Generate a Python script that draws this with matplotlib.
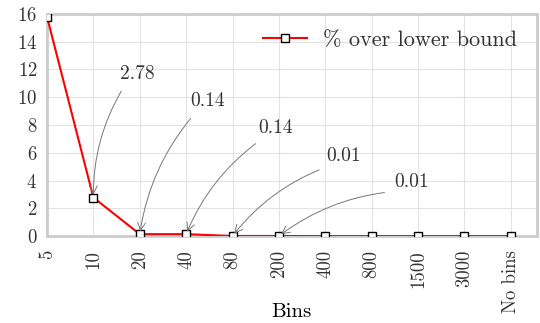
import matplotlib.pyplot as plt
import matplotlib as mpl

# data
bins = ['5', '10', '20', '40', '80', '200', '400', '800', '1500', '3000', 'No bins']
over_lb = [15.8, 2.78, 0.14, 0.14, 0.01, 0.01, 0.0, 0.0, 0.0, 0.0, 0.0]
notes = ['2.78', '0.14', '0.14', '0.01', '0.01']
note_idx = [1, 2, 3, 4, 5]
note_xy = [(1.94, 11.7), (3.47, 9.7), (4.93, 7.8), (6.4, 5.8), (7.86, 3.9)]

mpl.rcParams['font.family'] = 'serif'
mpl.rcParams['font.serif'] = ['cmr10']
mpl.rcParams['mathtext.fontset'] = 'cm'
mpl.rcParams['axes.formatter.use_mathtext'] = True
mpl.rcParams['text.color'] = '#333333'
mpl.rcParams['xtick.color'] = '#333333'
mpl.rcParams['ytick.color'] = '#333333'

fig, ax = plt.subplots(figsize=(5.4, 3.23), dpi=100)
fig.subplots_adjust(left=0.087, right=0.994, top=0.957, bottom=0.269)

x = list(range(len(bins)))
ax.plot(x, over_lb, color='red', lw=1.5, marker='s', ms=6,
        mfc='white', mec='black', mew=1.0, label='% over lower bound',
        clip_on=True, zorder=3)

for txt, i, pos in zip(notes, note_idx, note_xy):
    ax.annotate(txt, xy=(x[i], over_lb[i]), xytext=pos, fontsize=14,
                ha='center', va='center',
                arrowprops=dict(arrowstyle='->', color='#777777', lw=0.7,
                                connectionstyle='arc3,rad=0.15',
                                relpos=(0.2, 0.0), shrinkA=5, shrinkB=2))

ax.set_xlim(0, 10.56)
ax.set_ylim(0, 16)
ax.set_xticks(x)
ax.set_xticklabels(bins, rotation=90, fontsize=13.5)
ax.set_yticks(range(0, 17, 2))
ax.tick_params(axis='y', labelsize=13.5, length=0, pad=7)
ax.tick_params(axis='x', length=0, pad=10)
ax.set_xlabel('Bins', fontsize=15)
ax.xaxis.set_label_coords(0.5, -0.3)
ax.grid(True, color='#e3e3e3', lw=0.8)
ax.set_axisbelow(True)
for s in ax.spines.values():
    s.set_color('#cccccc')
    s.set_linewidth(2)

ax.legend(loc='upper right', frameon=False, fontsize=16,
          handlelength=2.0, handletextpad=0.7, bbox_to_anchor=(1.0, 1.015))

plt.savefig('out.png', dpi=100)
